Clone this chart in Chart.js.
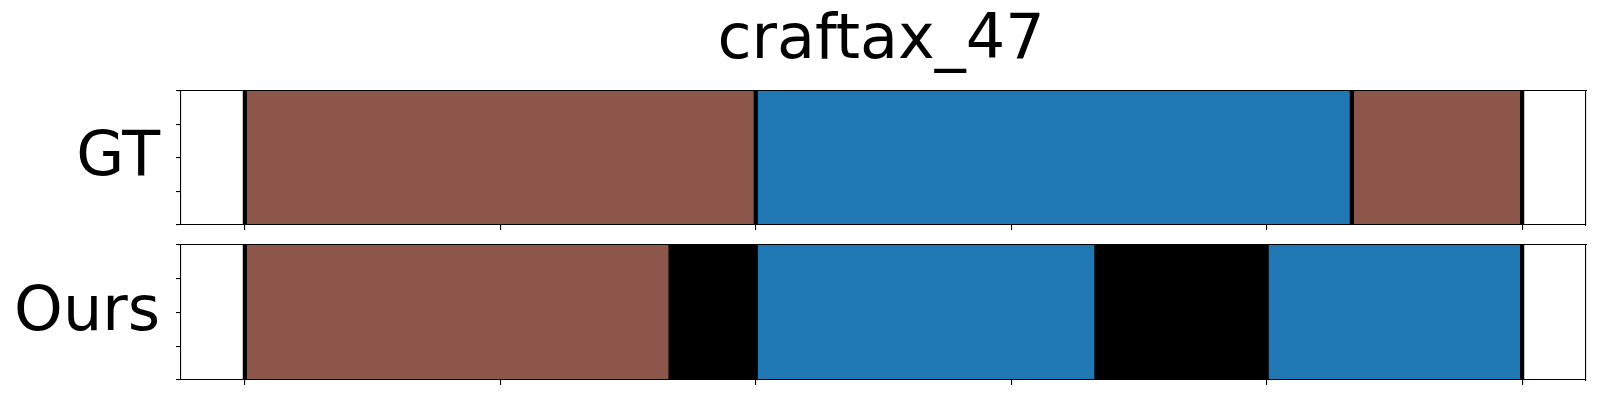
<!DOCTYPE html>
<html><head><meta charset="utf-8">
<script src="https://cdn.jsdelivr.net/npm/chart.js@4.4.0/dist/chart.umd.min.js"></script>
<style>
html,body{margin:0;padding:0;background:#fff;}
#wrap{position:relative;width:1600px;height:400px;background:#fff;overflow:hidden;}
#wrap canvas{position:absolute;left:0;}
</style></head><body>
<div id="wrap">
<canvas id="cGT" width="1600" height="232" style="top:0;width:1600px;height:232px"></canvas>
<canvas id="cOurs" width="1600" height="168" style="top:232px;width:1600px;height:168px"></canvas>
</div>
<script>
// ---- data ----
const titleText = 'craftax_47';
const rowNames = ['GT', 'Ours'];
const xTickValues = [0, 0.2, 0.4, 0.6, 0.8, 1.0];
const yTickValues = [0, 0.25, 0.5, 0.75, 1.0];
const gtStart = [0, 0.4, 0.8667];
const gtEnd = [0.4, 0.8667, 1.0];
const gtClass = ['A', 'B', 'A'];
const oursStart = [0, 0.3333, 0.4, 0.6667, 0.8];
const oursEnd = [0.3333, 0.4, 0.6667, 0.8, 1.0];
const oursClass = ['A', 'none', 'B', 'none', 'B'];

// ---- styles ----
const classColor = {A: '#8c564b', B: '#1f77b4', none: '#000000'};
const FONT = 'DejaVu Sans';
Chart.defaults.font.family = FONT;
Chart.defaults.color = '#000';

const rowLabelPlugin = {
  id: 'rowLabel',
  afterDraw(chart) {
    const {ctx, chartArea} = chart;
    const label = chart.data.labels[0];
    ctx.save();
    ctx.font = '62px "' + FONT + '"';
    ctx.fillStyle = '#000';
    ctx.textAlign = 'right';
    ctx.textBaseline = 'alphabetic';
    ctx.fillText(label, 160, (chartArea.top + chartArea.bottom) / 2 + 17);
    ctx.restore();
  }
};

function makeChart(id, rowName, starts, ends, classes, withTitle, pad) {
  const datasets = starts.map((s, i) => ({
    type: 'bar',
    indexAxis: 'y',
    xAxisID: 'x',
    yAxisID: 'y',
    order: 1,
    data: [[s, ends[i]]],
    backgroundColor: classColor[classes[i]],
    borderWidth: 0,
    barPercentage: 1,
    categoryPercentage: 1,
    grouped: false
  }));
  const bounds = [...new Set([starts[0], ...ends])];
  const lineData = [];
  bounds.forEach(b => { lineData.push({x: b, y: 0}, {x: b, y: 1}, {x: b, y: null}); });
  datasets.push({
    type: 'line',
    indexAxis: 'x',
    xAxisID: 'x',
    yAxisID: 'yT',
    order: 0,
    data: lineData,
    borderColor: '#000',
    borderWidth: 4.2,
    borderCapStyle: 'butt',
    pointRadius: 0,
    spanGaps: false,
    tension: 0
  });
  const tickGrid = {display: true, offset: false, drawOnChartArea: false, drawTicks: true, tickLength: 5, color: '#000', lineWidth: 1.1};
  const border = {display: true, color: '#000', width: 1.1, z: 1};
  return new Chart(document.getElementById(id), {
    type: 'bar',
    data: {labels: [rowName], datasets},
    options: {
      responsive: false,
      animation: false,
      devicePixelRatio: 1,
      layout: {padding: pad},
      plugins: {
        legend: {display: false},
        tooltip: {enabled: false},
        title: withTitle ? {display: true, text: titleText, color: '#000',
          font: {family: FONT, size: 62, weight: 'normal'}, padding: {top: 5, bottom: 11}} : {display: false}
      },
      scales: {
        x: {type: 'linear', position: 'bottom', min: -0.05, max: 1.05, offset: false,
            afterBuildTicks: sc => { sc.ticks = xTickValues.map(v => ({value: v})); },
            ticks: {display: false}, grid: tickGrid, border},
        x2: {type: 'linear', position: 'top', min: -0.05, max: 1.05, offset: false,
            ticks: {display: false}, grid: {display: false, drawTicks: false, offset: false}, border},
        y: {type: 'category', display: false, offset: true},
        yT: {type: 'linear', position: 'left', min: 0, max: 1, offset: false,
            afterBuildTicks: sc => { sc.ticks = yTickValues.map(v => ({value: v})); },
            ticks: {display: false}, grid: tickGrid, border},
        y2: {type: 'linear', position: 'right', min: 0, max: 1, offset: false,
            ticks: {display: false}, grid: {display: false, drawTicks: false, offset: false}, border}
      }
    },
    plugins: [rowLabelPlugin]
  });
}

makeChart('cGT', rowNames[0], gtStart, gtEnd, gtClass, true, {left: 176, right: 14, top: 0, bottom: 2});
makeChart('cOurs', rowNames[1], oursStart, oursEnd, oursClass, false, {left: 176, right: 14, top: 13, bottom: 15});
</script>
</body></html>
